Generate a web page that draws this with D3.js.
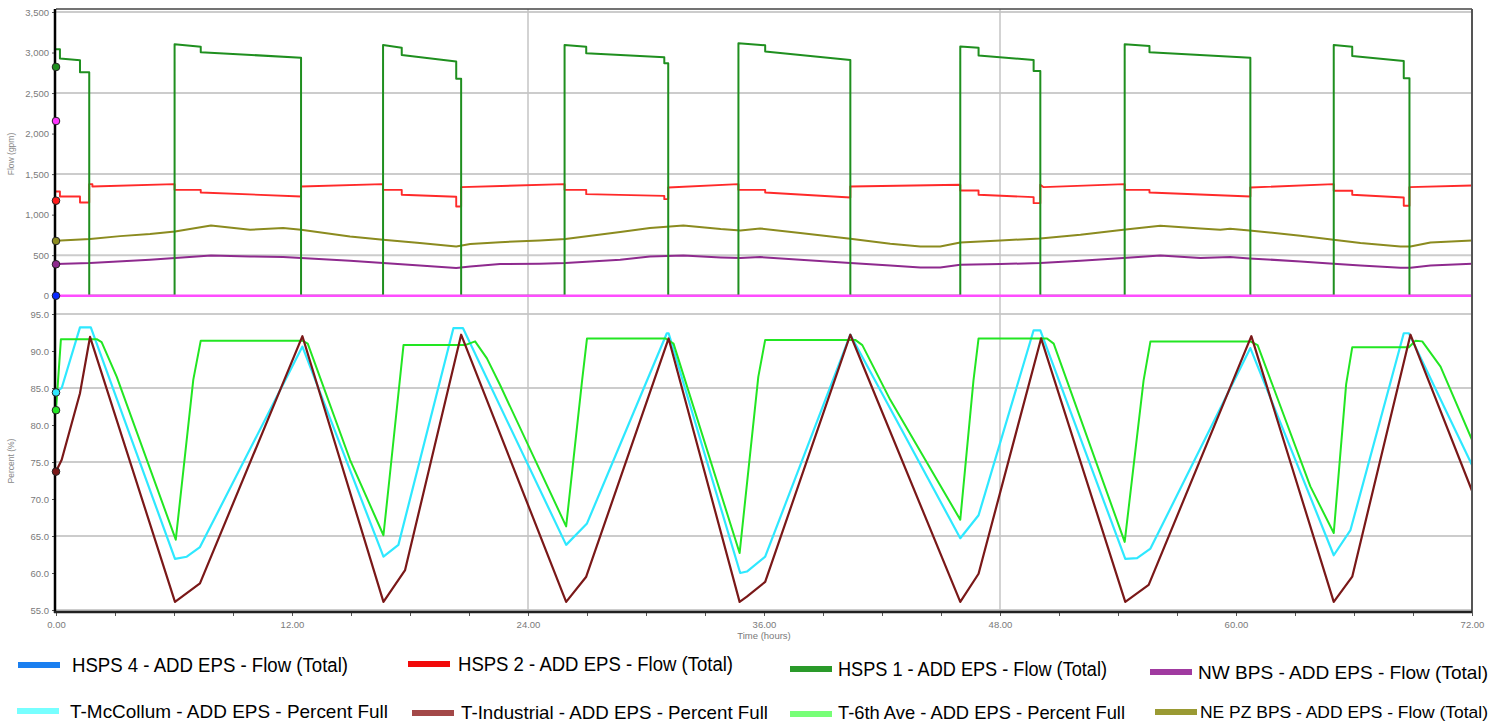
<!DOCTYPE html>
<html>
<head>
<meta charset="utf-8">
<script src="https://cdn.jsdelivr.net/npm/d3@7"></script>
<style>
  html, body { margin: 0; padding: 0; background: #ffffff; }
  svg { display: block; }
</style>
</head>
<body>
<svg id="chart" width="1502" height="725"></svg>
<script>
// ---------------- DATA (hours, value) ----------------
const timeTicks = [0, 12, 24, 36, 48, 60, 72];
const timeMinorTicks = [0,3,6,9,12,15,18,21,24,27,30,33,36,39,42,45,48,51,54,57,60,63,66,69,72];
const timeGrid = [24, 48];
const flowTicks = [0, 500, 1000, 1500, 2000, 2500, 3000, 3500];
const flowGrid = [500, 1500, 2500, 3500];
const pctTicks = [55, 60, 65, 70, 75, 80, 85, 90, 95];
const pctGrid = [55, 65, 75, 85, 95];

const legendLabels = [
  "HSPS 4 - ADD EPS - Flow (Total)",
  "HSPS 2 - ADD EPS - Flow (Total)",
  "HSPS 1 - ADD EPS - Flow (Total)",
  "NW BPS - ADD EPS - Flow (Total)",
  "T-McCollum - ADD EPS - Percent Full",
  "T-Industrial - ADD EPS - Percent Full",
  "T-6th Ave - ADD EPS - Percent Full",
  "NE PZ BPS - ADD EPS - Flow (Total)"
];

// HSPS 4 flow (zero throughout) and the pink zero trace
const hsps4Flow = [[0, 0], [72, 0]];
const zeroTrace = [[0, 0], [72, 0]];

// HSPS 1 flow (gpm)
const hsps1Flow = [
  [0,3040],[0.2,3040],[0.2,2925],[1.22,2905],[1.22,2757],[1.69,2757],[1.69,0],
  [6.03,0],[6.03,3102],[7.36,3070],[7.36,3003],[12.46,2937],[12.46,0],
  [16.63,0],[16.63,3093],[17.58,3060],[17.58,2970],[20.35,2888],[20.35,2675],[20.6,2675],[20.6,0],
  [25.86,0],[25.86,3093],[26.96,3070],[26.96,2991],[30.93,2942],[30.93,2868],[31.13,2868],[31.13,0],
  [34.7,0],[34.7,3114],[36.06,3090],[36.06,3012],[40.39,2909],[40.39,0],
  [45.98,0],[45.98,3073],[46.91,3060],[46.91,2962],[49.71,2909],[49.71,2773],[50.05,2773],[50.05,0],
  [54.34,0],[54.34,3102],[55.6,3080],[55.6,3003],[60.73,2937],[60.73,0],
  [64.97,0],[64.97,3093],[65.91,3070],[65.91,2958],[68.53,2896],[68.53,2683],[68.82,2683],[68.82,0],
  [72,0]
];

// HSPS 2 flow (gpm)
const hsps2Flow = [
  [0,1285],[0.2,1285],[0.2,1224],[1.22,1224],[1.22,1150],[1.69,1150],[1.69,1376],[1.85,1376],[1.85,1347],[6.03,1376],
  [6.03,1306],[7.36,1306],[7.36,1274],[12.46,1224],[12.46,1347],[16.63,1376],
  [16.63,1306],[17.58,1306],[17.58,1245],[20.35,1220],[20.35,1100],[20.6,1100],[20.6,1340],[25.86,1376],
  [25.86,1306],[26.96,1306],[26.96,1253],[30.93,1232],[30.93,1191],[31.13,1191],[31.13,1335],[34.7,1376],
  [34.7,1306],[36.06,1306],[36.06,1274],[40.39,1212],[40.39,1347],[45.98,1368],
  [45.98,1298],[46.91,1298],[46.91,1245],[49.71,1216],[49.71,1142],[50.05,1142],[50.05,1368],[50.2,1340],[54.34,1376],
  [54.34,1306],[55.6,1306],[55.6,1274],[60.73,1224],[60.73,1335],[64.97,1376],
  [64.97,1294],[65.91,1294],[65.91,1245],[68.53,1212],[68.53,1109],[68.82,1109],[68.82,1340],[72,1360]
];

// NE PZ BPS flow (gpm)
const nePzFlow = [
  [0,678],[1.73,699],[3.26,735],[4.78,760],[6.05,793],[7.88,866],[9.87,813],[11.55,834],[12.46,813],
  [14.95,731],[16.63,690],[18.5,649],[20.35,608],[21.06,637],[22.58,660],[24.6,682],[25.9,699],
  [28.69,785],[30.2,834],[31.9,866],[33.8,822],[34.8,805],[35.8,830],[37.84,773],[40.39,703],
  [42.42,641],[43.95,608],[44.96,608],[45.98,657],[48.02,682],[50.05,707],[52.09,752],[54.27,813],
  [56.15,863],[58.19,830],[59.2,813],[59.7,826],[60.68,805],[63.28,740],[64.96,690],[66.33,649],
  [68.36,608],[68.87,608],[69.89,657],[72,682]
];

// NW BPS flow (gpm)
const nwBpsFlow = [
  [0,390],[1.73,403],[4.78,444],[6.05,464],[7.88,496],[9.87,485],[11.55,477],[12.46,464],
  [14.95,430],[16.63,403],[18.5,374],[20.35,341],[21.06,361],[22.58,390],[24.6,394],[25.9,403],
  [28.69,444],[30.2,485],[31.9,497],[33.8,472],[34.8,464],[35.8,476],[37.84,444],[40.39,403],
  [42.42,374],[43.95,349],[44.96,349],[45.98,382],[48.02,390],[50.05,403],[52.09,430],[54.27,464],
  [56.15,497],[58.19,464],[59.7,477],[60.68,460],[63.28,423],[64.96,394],[66.33,374],[68.36,345],
  [68.87,345],[69.89,374],[72,394]
];

// T-McCollum percent full
const mcCollumPct = [
  [0,84.4],[0.29,85.0],[1.22,93.2],[1.77,93.2],[6.05,61.9],[6.65,62.2],[7.32,63.5],[12.53,90.6],
  [16.65,62.2],[17.41,63.8],[20.21,93.1],[20.69,93.1],[25.94,63.8],[27.0,66.7],[31.06,92.4],[31.15,92.4],
  [34.79,60.0],[35.13,60.2],[36.06,62.2],[40.39,92.2],[45.98,64.7],[46.91,67.8],[49.71,92.8],[50.05,92.8],
  [54.37,61.9],[54.97,62.0],[55.65,63.3],[60.73,90.4],[64.97,62.4],[65.82,65.8],[68.53,92.4],[68.79,92.4],
  [72,74.6]
];

// T-Industrial percent full
const industrialPct = [
  [0,73.7],[0.29,75.3],[1.22,84.3],[1.73,91.9],[6.05,56.1],[7.32,58.6],[12.53,92.0],[16.65,56.1],
  [17.75,60.4],[20.6,92.2],[25.94,56.1],[26.96,59.5],[31.15,91.7],[34.76,56.1],[35.13,56.8],[36.06,58.8],
  [40.39,92.2],[45.98,56.1],[46.91,59.9],[50.09,91.7],[54.37,56.1],[55.56,58.4],[60.78,92.0],[64.97,56.1],
  [65.91,59.5],[68.87,92.2],[72,71.1]
];

// T-6th Ave percent full
const sixthAvePct = [
  [0,82.0],[0.25,91.6],[2.07,91.6],[2.32,91.2],[3.09,86.5],[6.09,64.5],[6.98,86.1],[7.36,91.4],[12.53,91.4],
  [12.8,91.0],[14.95,75.3],[16.65,65.1],[16.95,72.6],[17.67,90.8],[20.8,90.8],[21.31,91.3],[21.91,89.0],
  [22.58,85.4],[25.94,66.3],[26.75,86.0],[27.0,91.7],[30.98,91.7],[31.4,91.0],[34.76,62.7],[35.71,86.5],
  [36.06,91.5],[40.64,91.5],[41.0,90.8],[42.42,83.4],[45.98,67.2],[46.65,86.0],[46.91,91.7],[50.39,91.7],
  [50.73,91.0],[54.34,64.2],[55.3,86.0],[55.65,91.3],[60.73,91.3],[61.1,90.8],[63.78,71.7],[64.97,65.4],
  [65.6,85.5],[65.91,90.5],[68.79,90.5],[69.13,91.4],[69.47,91.3],[70.4,87.9],[72,78.0]
];

// Initial-value markers on the axis
const flowMarkers = [2822, 2155, 1172, 675, 388, 0];
const pctMarkers = [84.4, 82.0, 73.7];

// ---------------- STYLE / LAYOUT ----------------
const svg = d3.select("#chart");
const W = 1502, H = 725;
const X0 = 56, X1 = 1472;
const TOP_Y0 = 12, TOP_Y1 = 295.7;
const BOT_Y0 = 314, BOT_Y1 = 610;
const FRAME_TOP = 9, FRAME_BOT = 612;

const x = d3.scaleLinear().domain([0, 72]).range([X0, X1]);
const yFlow = d3.scaleLinear().domain([0, 3500]).range([TOP_Y1, TOP_Y0]);
const yPct = d3.scaleLinear().domain([55, 95]).range([BOT_Y1, BOT_Y0]);

svg.append("rect").attr("width", W).attr("height", H).attr("fill", "#fff");

const defs = svg.append("defs");
defs.append("clipPath").attr("id", "clipTop").append("rect")
  .attr("x", X0).attr("y", FRAME_TOP).attr("width", X1 - X0).attr("height", 300 - FRAME_TOP);
defs.append("clipPath").attr("id", "clipBot").append("rect")
  .attr("x", X0).attr("y", 306).attr("width", X1 - X0).attr("height", FRAME_BOT - 306);

const gridColor = "#cccccc";
svg.append("g").selectAll("line").data(flowGrid).join("line")
  .attr("x1", X0).attr("x2", X1)
  .attr("y1", d => yFlow(d)).attr("y2", d => yFlow(d))
  .attr("stroke", gridColor).attr("stroke-width", 2);
svg.append("g").selectAll("line").data(pctGrid).join("line")
  .attr("x1", X0).attr("x2", X1)
  .attr("y1", d => yPct(d)).attr("y2", d => yPct(d))
  .attr("stroke", gridColor).attr("stroke-width", 2);
svg.append("g").selectAll("line").data(timeGrid).join("line")
  .attr("x1", d => x(d)).attr("x2", d => x(d))
  .attr("y1", FRAME_TOP).attr("y2", FRAME_BOT)
  .attr("stroke", "#c4c4c4").attr("stroke-width", 1.5);

// ---------- series ----------
const lineFlow = d3.line().x(d => x(d[0])).y(d => yFlow(d[1]));
const linePct = d3.line().x(d => x(d[0])).y(d => yPct(d[1]));

const topSeries = [
  { data: hsps4Flow, color: "#1a6cff", w: 0.8 },
  { data: nwBpsFlow, color: "#8e2a8e", w: 2 },
  { data: nePzFlow, color: "#8b8b1f", w: 2 },
  { data: hsps2Flow, color: "#ff2a2a", w: 1.9 },
  { data: hsps1Flow, color: "#1f8f1f", w: 2 },
  { data: zeroTrace, color: "#ff4dff", w: 2.6 }
];
const gTop = svg.append("g").attr("clip-path", "url(#clipTop)");
topSeries.forEach(s => {
  gTop.append("path").datum(s.data)
    .attr("d", lineFlow).attr("fill", "none")
    .attr("stroke", s.color).attr("stroke-width", s.w)
    .attr("stroke-linejoin", "round");
});

const botSeries = [
  { data: mcCollumPct, color: "#2ee8ff", w: 2.2 },
  { data: sixthAvePct, color: "#22e622", w: 2 },
  { data: industrialPct, color: "#7a1818", w: 2.2 }
];
const gBot = svg.append("g").attr("clip-path", "url(#clipBot)");
botSeries.forEach(s => {
  gBot.append("path").datum(s.data)
    .attr("d", linePct).attr("fill", "none")
    .attr("stroke", s.color).attr("stroke-width", s.w)
    .attr("stroke-linejoin", "round");
});

// ---------- frame ----------
svg.append("line").attr("x1", X0).attr("x2", X1).attr("y1", FRAME_TOP).attr("y2", FRAME_TOP)
  .attr("stroke", "#444").attr("stroke-width", 1.5);
svg.append("line").attr("x1", X1).attr("x2", X1).attr("y1", FRAME_TOP).attr("y2", FRAME_BOT)
  .attr("stroke", "#555").attr("stroke-width", 2);

// ---------- axes ----------
const axisFont = "Liberation Sans, Arial, sans-serif";
function styleAxis(g) {
  g.select(".domain").remove();
  g.selectAll(".tick line").attr("stroke", "#555");
  g.selectAll(".tick text").attr("fill", "#7a7a7a").style("font-family", axisFont).style("font-size", "9.5px");
}
svg.append("g").attr("transform", `translate(${X0 - 1},0)`)
  .call(d3.axisLeft(yFlow).tickValues(flowTicks).tickFormat(d3.format(",")).tickSize(3).tickPadding(3))
  .call(styleAxis);
svg.append("g").attr("transform", `translate(${X0 - 1},0)`)
  .call(d3.axisLeft(yPct).tickValues(pctTicks).tickFormat(d3.format(".1f")).tickSize(3).tickPadding(3))
  .call(styleAxis);
svg.append("g").attr("transform", `translate(0,${FRAME_BOT})`)
  .call(d3.axisBottom(x).tickValues(timeMinorTicks).tickFormat("").tickSize(4))
  .call(styleAxis);
svg.append("g").attr("transform", `translate(0,${FRAME_BOT})`)
  .call(d3.axisBottom(x).tickValues(timeTicks).tickFormat(d3.format(".2f")).tickSize(4).tickPadding(5))
  .call(styleAxis);

svg.append("line").attr("x1", X0 - 1).attr("x2", X0 - 1).attr("y1", FRAME_TOP).attr("y2", FRAME_BOT + 1)
  .attr("stroke", "#000").attr("stroke-width", 2.5);
svg.append("line").attr("x1", X0 - 2).attr("x2", X1).attr("y1", FRAME_BOT).attr("y2", FRAME_BOT)
  .attr("stroke", "#222").attr("stroke-width", 2.5);

svg.append("text").attr("transform", `translate(14,154) rotate(-90)`)
  .attr("text-anchor", "middle").attr("fill", "#888")
  .style("font-family", axisFont).style("font-size", "8.5px").text("Flow (gpm)");
svg.append("text").attr("transform", `translate(14,461) rotate(-90)`)
  .attr("text-anchor", "middle").attr("fill", "#888")
  .style("font-family", axisFont).style("font-size", "8.5px").text("Percent (%)");
svg.append("text").attr("x", x(36)).attr("y", 639)
  .attr("text-anchor", "middle").attr("fill", "#7a7a7a")
  .style("font-family", axisFont).style("font-size", "9.5px").text("Time (hours)");

// ---------- markers ----------
const flowMarkerColors = ["#1f8f1f", "#ff33ff", "#ff1a1a", "#8b8b1f", "#8e2a8e", "#0a2aff"];
const pctMarkerColors = ["#2ee8ff", "#22e622", "#7a1818"];
svg.append("g").selectAll("circle").data(flowMarkers).join("circle")
  .attr("cx", x(0)).attr("cy", d => yFlow(d)).attr("r", 3.8)
  .attr("fill", (d, i) => flowMarkerColors[i]).attr("stroke", "#222").attr("stroke-width", 1);
svg.append("g").selectAll("circle").data(pctMarkers).join("circle")
  .attr("cx", x(0)).attr("cy", d => yPct(d)).attr("r", 3.8)
  .attr("fill", (d, i) => pctMarkerColors[i]).attr("stroke", "#222").attr("stroke-width", 1);

// ---------- legend ----------
const legendColors = ["#1a7ff0", "#f20a0a", "#2a9a2a", "#a03aa0", "#77ffff", "#a34848", "#77ff77", "#9a9a33"];
const legendLayout = [
  { sx: 18, sy: 665, tx: 72, ty: 672, w: 276, fs: 19.5 },
  { sx: 408, sy: 664, tx: 458, ty: 671, w: 275, fs: 19.5 },
  { sx: 790, sy: 669, tx: 838, ty: 676, w: 269, fs: 19.5 },
  { sx: 1150, sy: 672, tx: 1198, ty: 679, w: 290, fs: 19 },
  { sx: 17, sy: 711, tx: 70, ty: 718, w: 318, fs: 19 },
  { sx: 412, sy: 713, tx: 461, ty: 719, w: 307, fs: 19 },
  { sx: 790, sy: 714, tx: 838, ty: 719, w: 287, fs: 19 },
  { sx: 1155, sy: 712, tx: 1200, ty: 718, w: 288, fs: 17.4 }
];
const lg = svg.append("g");
legendLabels.forEach((label, i) => {
  const L = legendLayout[i];
  lg.append("rect").attr("x", L.sx).attr("y", L.sy - 3).attr("width", 42).attr("height", 6)
    .attr("fill", legendColors[i]);
  lg.append("text").attr("x", L.tx).attr("y", L.ty).attr("fill", "#000")
    .attr("textLength", L.w).attr("lengthAdjust", "spacingAndGlyphs")
    .style("font-family", "Liberation Sans, Arial, sans-serif").style("font-size", L.fs + "px")
    .text(label);
});
</script>
</body>
</html>
